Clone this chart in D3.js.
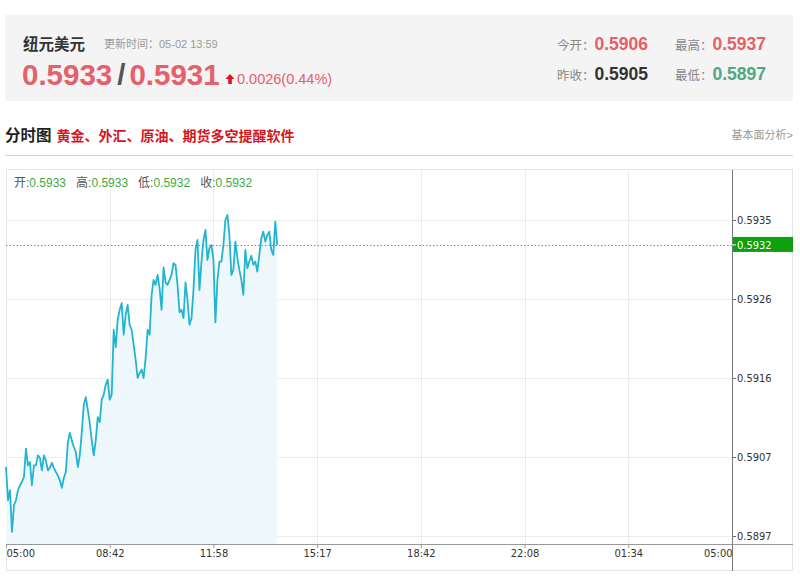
<!DOCTYPE html>
<html><head><meta charset="utf-8">
<script src="https://cdn.jsdelivr.net/npm/d3@7/dist/d3.min.js"></script>
<style>
html,body{margin:0;padding:0;background:#fff;}
svg{display:block;font-family:"Liberation Sans","Noto Sans CJK SC",sans-serif;}
</style></head>
<body><svg id="chart" width="800" height="585"></svg>
<script>
// ---- data ----
const symbolName = "纽元美元";
const updateText = "更新时间：05-02 13:59";
const bidAsk = ["0.5933", "0.5931"];
const changeText = "0.0026(0.44%)";
const statLabels = ["今开：", "最高：", "昨收：", "最低："];
const statValues = ["0.5906", "0.5937", "0.5905", "0.5897"];
const ohlcLabels = ["开:", "高:", "低:", "收:"];
const ohlcValues = ["0.5933", "0.5933", "0.5932", "0.5932"];
const xTickLabels = ["05:00", "08:42", "11:58", "15:17", "18:42", "22:08", "01:34", "05:00"];
const totalSlots = 364; // 4-minute slots across the session
const yTickValues = [0.5897, 0.59065, 0.5916, 0.59255, 0.5935];
const yTickLabels = ["0.5897", "0.5907", "0.5916", "0.5926", "0.5935"];
const lastPrice = 0.5932;
const lastPriceLabel = "0.5932";
const priceSeries = [
0.59053,0.59013,0.59025,0.58975,0.59007,0.59013,0.59025,0.59031,0.59035,0.59041,
0.59075,0.59055,0.59059,0.59031,0.59055,0.59055,0.59067,0.59064,0.59049,0.59067,
0.59061,0.59049,0.59052,0.59058,0.59052,0.59047,0.59043,0.59037,0.59028,0.59040,
0.59047,0.59082,0.59094,0.59085,0.59077,0.59071,0.59053,0.59067,0.59095,0.59128,
0.59137,0.59122,0.59106,0.59085,0.59067,0.59085,0.59113,0.59107,0.59134,0.59140,
0.59152,0.59158,0.59134,0.59140,0.59218,0.59197,0.59230,0.59242,0.59250,0.59212,
0.59236,0.59248,0.59224,0.59218,0.59200,0.59182,0.59160,0.59166,0.59170,0.59160,
0.59184,0.59218,0.59212,0.59260,0.59278,0.59272,0.59284,0.59268,0.59242,0.59293,
0.59275,0.59272,0.59278,0.59284,0.59298,0.59296,0.59272,0.59239,0.59242,0.59232,
0.59275,0.59254,0.59224,0.59232,0.59266,0.59314,0.59326,0.59266,0.59300,0.59326,
0.59338,0.59302,0.59316,0.59320,0.59302,0.59227,0.59278,0.59300,0.59300,0.59320,
0.59350,0.59356,0.59332,0.59284,0.59290,0.59324,0.59304,0.59290,0.59278,0.59260,
0.59314,0.59292,0.59300,0.59307,0.59296,0.59300,0.59288,0.59308,0.59328,0.59336,
0.59324,0.59332,0.59336,0.59314,0.59308,0.59348,0.59320
];

// ---- layout ----
const svg = d3.select("#chart");
const red = "#e5606a", green = "#4fa882", dark = "#333";

// header box
svg.append("rect").attr("x", 5).attr("y", 15).attr("width", 788).attr("height", 86).attr("fill", "#f4f4f4");
svg.append("text").attr("x", 23).attr("y", 50).attr("font-size", 15.5).attr("font-weight", "bold").attr("fill", dark).text(symbolName);
svg.append("text").attr("x", 104).attr("y", 48).attr("font-size", 11).attr("fill", "#9a9a9a").text(updateText);

const big = svg.append("text").attr("x", 22).attr("y", 85).attr("font-size", 29.5).attr("font-weight", "bold");
big.append("tspan").attr("fill", red).text(bidAsk[0]);
big.append("tspan").attr("fill", "#555").attr("dx", 5).text("/");
big.append("tspan").attr("fill", red).attr("dx", 4).text(bidAsk[1]);
svg.append("path").attr("d", "M230,74 L234.5,79 L231.8,79 L231.8,84 L228.2,84 L228.2,79 L225.5,79 Z").attr("fill", "#e0121c");
svg.append("text").attr("x", 237).attr("y", 84).attr("font-size", 14.5).attr("fill", red).text(changeText);

const statPos = [[557, 50], [675, 50], [557, 80], [675, 80]];
const statColors = [red, red, dark, green];
statLabels.forEach((lab, i) => {
  const t = svg.append("text").attr("x", statPos[i][0]).attr("y", statPos[i][1]);
  t.append("tspan").attr("font-size", 12.5).attr("fill", "#888").text(lab);
  t.append("tspan").attr("font-size", 17.5).attr("font-weight", "bold").attr("fill", statColors[i]).text(statValues[i]);
});

// section title
const title = svg.append("text").attr("x", 5).attr("y", 141).attr("font-weight", "bold");
title.append("tspan").attr("font-size", 15.5).attr("fill", "#222").text("分时图");
title.append("tspan").attr("dx", 5).attr("font-size", 14).attr("fill", "#d4161f").text("黄金、外汇、原油、期货多空提醒软件");
svg.append("text").attr("x", 793).attr("y", 139).attr("text-anchor", "end").attr("font-size", 11).attr("fill", "#999").text("基本面分析>");
svg.append("line").attr("x1", 5).attr("x2", 793).attr("y1", 155.5).attr("y2", 155.5).attr("stroke", "#cfcfcf");

// chart frame
const L = 6, R = 732, T = 170, B = 544;
svg.append("rect").attr("x", 6.5).attr("y", 169.5).attr("width", 786).attr("height", 401).attr("fill", "none").attr("stroke", "#e6e6e6");

const x = d3.scaleLinear().domain([0, totalSlots]).range([L, R]);
const y = d3.scaleLinear().domain([0.589604, 0.594101]).range([B, T]);
const xTickPos = xTickLabels.map((d, i) => i * totalSlots / (xTickLabels.length - 1));

// grid
svg.append("g").selectAll("line").data(yTickValues).join("line")
  .attr("x1", L).attr("x2", R).attr("y1", d => Math.round(y(d)) + 0.5).attr("y2", d => Math.round(y(d)) + 0.5)
  .attr("stroke", "#ececec");
svg.append("g").selectAll("line").data(xTickPos.slice(1, -1)).join("line")
  .attr("x1", d => Math.round(x(d)) + 0.5).attr("x2", d => Math.round(x(d)) + 0.5).attr("y1", T).attr("y2", B)
  .attr("stroke", "#e6eef1");

// area + line
const area = d3.area().x((d, i) => x(i)).y0(B).y1(d => y(d));
svg.append("path").datum(priceSeries).attr("d", area).attr("fill", "#eef8fc");
const line = d3.line().x((d, i) => x(i)).y(d => y(d));
svg.append("path").datum(priceSeries).attr("d", line).attr("fill", "none").attr("stroke", "#22b4d0").attr("stroke-width", 1.8).attr("stroke-linejoin", "round");

// last price dotted line
svg.append("line").attr("x1", L).attr("x2", R).attr("y1", Math.round(y(lastPrice)) + 0.5).attr("y2", Math.round(y(lastPrice)) + 0.5)
  .attr("stroke", "#4caf50").attr("stroke-dasharray", "1.5,2");

// x axis
const xAxis = d3.axisBottom(x).tickValues(xTickPos).tickFormat((d, i) => xTickLabels[i]).tickSize(4).tickSizeOuter(0);
const gx = svg.append("g").attr("transform", `translate(0,${B})`).call(xAxis);
gx.select(".domain").remove();
gx.selectAll(".tick line").attr("stroke", "#999");
gx.selectAll(".tick text").attr("font-size", 11).attr("fill", dark).attr("dy", "0.55em")
  .attr("font-family", "'DejaVu Sans Condensed','Liberation Sans',sans-serif")
  .attr("text-anchor", (d, i) => i === 0 ? "start" : (i === xTickLabels.length - 1 ? "end" : "middle"));
svg.append("line").attr("x1", L).attr("x2", 793).attr("y1", B + 0.5).attr("y2", B + 0.5).attr("stroke", "#999");

// y axis
const yAxis = d3.axisRight(y).tickValues(yTickValues).tickFormat((d, i) => yTickLabels[i]).tickSize(4).tickSizeOuter(0);
const gy = svg.append("g").attr("transform", `translate(${R},0)`).call(yAxis);
gy.select(".domain").remove();
gy.selectAll(".tick line").attr("stroke", "#666");
gy.selectAll(".tick text").attr("font-size", 11).attr("fill", dark).attr("x", 5)
  .attr("font-family", "'DejaVu Sans Condensed','Liberation Sans',sans-serif");
svg.append("line").attr("x1", R + 0.5).attr("x2", R + 0.5).attr("y1", T).attr("y2", 571).attr("stroke", "#777");

// last price tag
const ly = y(lastPrice);
svg.append("rect").attr("x", R + 1).attr("y", ly - 8).attr("width", 60).attr("height", 15).attr("fill", "#0f9f0f");
svg.append("line").attr("x1", R).attr("x2", R + 4).attr("y1", ly).attr("y2", ly).attr("stroke", "#fff");
svg.append("text").attr("x", R + 5).attr("y", ly).attr("dy", "0.35em").attr("font-size", 11).attr("fill", "#fff")
  .attr("font-family", "'DejaVu Sans Condensed','Liberation Sans',sans-serif").text(lastPriceLabel);

// OHLC info
const info = svg.append("text").attr("x", 14).attr("y", 187).attr("font-size", 12);
ohlcLabels.forEach((lab, i) => {
  info.append("tspan").attr("fill", "#555").attr("dx", i === 0 ? 0 : 10).text(lab);
  info.append("tspan").attr("fill", "#3fa93f").text(ohlcValues[i]);
});
</script></body></html>
